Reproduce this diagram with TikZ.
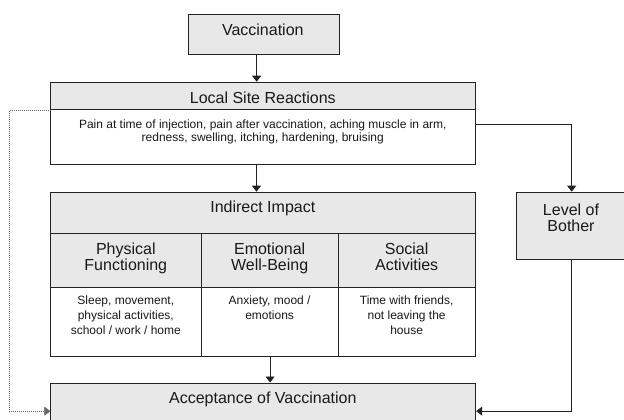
\documentclass[tikz,border=0pt]{standalone}
\usepackage{fontspec}
\setmainfont{Liberation Sans}
\usetikzlibrary{arrows.meta}
\definecolor{boxgray}{HTML}{E8E8E8}
\definecolor{edge}{HTML}{222222}
\begin{document}
\begin{tikzpicture}[x=1pt,y=-1pt,
  box/.style={rectangle, draw=edge, line width=0.9pt, fill=boxgray, inner sep=0pt, anchor=north west},
  wbox/.style={box, fill=white},
  big/.style={font=\fontsize{16}{16.7}\selectfont, anchor=base, align=center, inner sep=0pt, text=black!90},
  small/.style={font=\fontsize{12}{15.3}\selectfont, anchor=base, align=center, inner sep=0pt, text=black!90},
  arr/.style={draw=edge, line width=0.8pt, -{Triangle[length=6pt,width=9pt]}},
  dotline/.style={draw=black!60, line width=0.7pt, dash pattern=on 0.8pt off 1.2pt, -{Triangle[length=6pt,width=9pt]}}
]
\useasboundingbox (0,0) rectangle (624,420);
\clip (0,0) rectangle (624,420);
% boxes
\node[box, minimum width=151pt, minimum height=40.6pt] (vacc) at (187.7,13.7) {};
\node[box, minimum width=425pt, minimum height=27.6pt] (lsrh) at (50.3,81.7) {};
\node[wbox, minimum width=425pt, minimum height=54.7pt] (lsrb) at (50.3,109.3) {};
\node[box, minimum width=425pt, minimum height=41pt] (iih) at (50.3,191.7) {};
\node[box, minimum width=151pt, minimum height=54.6pt] (pfh) at (50.3,232.7) {};
\node[box, minimum width=136.7pt, minimum height=54.6pt] (ewh) at (201.3,232.7) {};
\node[box, minimum width=137.3pt, minimum height=54.6pt] (sah) at (338,232.7) {};
\node[wbox, minimum width=151pt, minimum height=68.4pt] (pfb) at (50.3,287.3) {};
\node[wbox, minimum width=136.7pt, minimum height=68.4pt] (ewb) at (201.3,287.3) {};
\node[wbox, minimum width=137.3pt, minimum height=68.4pt] (sab) at (338,287.3) {};
\node[box, minimum width=107.5pt, minimum height=67.3pt] (lob) at (516,191.7) {};
\node[box, minimum width=425pt, minimum height=56.4pt] (acc) at (50.3,382.5) {};
% texts (base anchor = baseline of the last line)
\node[big] (vacct) at (262.8,35.7) {Vaccination};
\node[big] (lsrt) at (262.8,103.3) {Local Site Reactions};
\node[small, font=\fontsize{12}{12.9}\selectfont] (lsrd) at (262.8,141.4) {Pain at time of injection, pain after vaccination, aching muscle in arm,\\redness, swelling, itching, hardening, bruising};
\node[big] (iit) at (262.8,212.7) {Indirect Impact};
\node[big] (pft) at (125.8,270.7) {Physical\\Functioning};
\node[big] (ewt) at (269.65,270.7) {Emotional\\Well-Being};
\node[big] (sat) at (406.65,270.7) {Social\\Activities};
\node[small] (pfd) at (125.8,334.6) {Sleep, movement,\\physical activities,\\school / work / home};
\node[small] (ewd) at (269.65,319.3) {Anxiety, mood /\\emotions};
\node[small] (sad) at (406.65,334.6) {Time with friends,\\not leaving the\\house};
\node[big] (lobt) at (571,231.7) {Level of\\Bother};
\node[big] (acct) at (262.8,403.7) {Acceptance of Vaccination};
% connectors
\draw[arr] ([xshift=-7pt]vacc.south) -- ([xshift=-7pt]vacc.south |- lsrh.north);
\draw[arr] ([xshift=-6.8pt]lsrb.south) -- ([xshift=-6.8pt]lsrb.south |- iih.north);
\draw[arr] (ewb.south) -- (ewb.south |- acc.north);
\draw[arr] ([yshift=12.9pt]lsrb.east) -| ([xshift=1.5pt]lob.north);
\draw[arr] ([xshift=1.5pt]lob.south) |- (acc.east);
\coordinate (dl) at (9,0);
\draw[dotline] (lsrh.south west) -- (lsrh.south west -| dl) |- (acc.west);
\end{tikzpicture}
\end{document}
